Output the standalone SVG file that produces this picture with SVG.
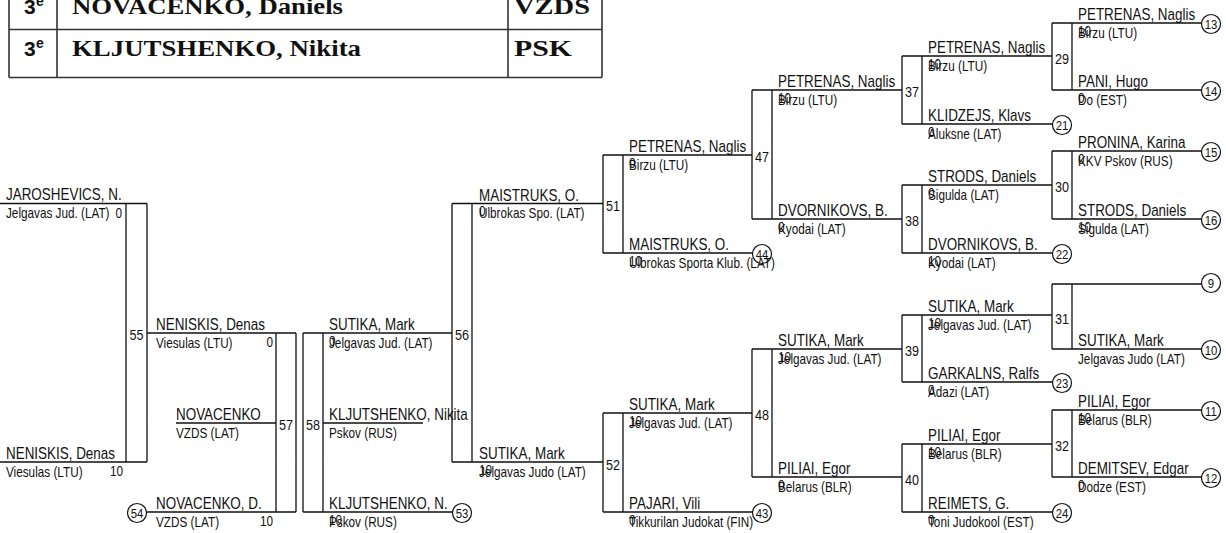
<svg xmlns="http://www.w3.org/2000/svg" width="1226" height="533" viewBox="0 0 1226 533">
<style>
text{font-family:"Liberation Sans",Arial,sans-serif;fill:#111}
#matches text,#pools text,#players text{transform-box:fill-box;transform:scaleX(.84);transform-origin:0 0}
.nm{font-size:16px}
.cl{font-size:14px}
.sc{font-size:14px}
#players .se{font-size:14px;text-anchor:end;transform-origin:100% 0}
#matches .bn{font-size:15px;text-anchor:middle;transform-origin:50% 0}
#pools .cn{font-size:13.5px;text-anchor:middle;transform-origin:50% 0}
.ln{stroke:#111;stroke-width:1.3;fill:none}
.tb{stroke:#333;stroke-width:1.6;fill:none}
.cc{fill:#fff;stroke:#111;stroke-width:1.2}
.tt{font-family:"Liberation Serif","Times New Roman",serif;font-weight:bold;font-size:23px}
.pl{font-family:"Liberation Sans",Arial,sans-serif;font-weight:bold;font-size:21px}
.ps{font-family:"Liberation Sans",Arial,sans-serif;font-weight:bold;font-size:14px}
</style>
<rect width="1226" height="533" fill="#fff"/>
<g id="table">
<path class="tb" d="M9 -2V77.5M57 -2V77.5M508 -2V77.5M602 -2V77.5M9 29.5H602M9 77.5H602"/>
<text class="pl" x="24" y="13.5">3</text><text class="ps" x="36" y="6">e</text>
<text class="tt" x="72" y="13.5" textLength="271" lengthAdjust="spacingAndGlyphs">NOVACENKO, Daniels</text>
<text class="tt" x="514" y="13.5" textLength="76" lengthAdjust="spacingAndGlyphs">VZDS</text>
<text class="pl" x="24" y="56">3</text><text class="ps" x="36" y="48">e</text>
<text class="tt" x="72" y="56" textLength="289" lengthAdjust="spacingAndGlyphs">KLJUTSHENKO, Nikita</text>
<text class="tt" x="514" y="56" textLength="58" lengthAdjust="spacingAndGlyphs">PSK</text>
</g>
<g id="connectors">
<path class="ln" d="M0 203.5H147M0 462H147M126 203.5V462M147 203.5V462
M147 333H296M176 423H276M147 512H296M276 333V512M296 333V512
M303 333H452M303 512H453M303 333V512M323 333V512M323 423H423
M452 203.5H603M452 462H603M452 203.5V462M472 203.5V462
M603 155H752M603 253H753M603 155V253M623 155V253
M752 90H902M752 219H902M752 90V219M772 90V219
M902 56H1052M902 124H1053M902 56V124M922 56V124
M1052 23H1202M1052 90H1202M1052 23V90M1072 23V90
M902 185H1052M902 253H1053M902 185V253M922 185V253
M1052 151H1202M1052 219H1202M1052 151V219M1072 151V219
M603 413H752M603 512H753M603 413V512M623 413V512
M752 349H902M752 477H902M752 349V477M772 349V477
M902 315H1052M902 382H1053M902 315V382M922 315V382
M1052 284H1202M1052 349H1202M1052 284V349M1072 284V349
M902 444H1052M902 512H1053M902 444V512M922 444V512
M1052 410H1202M1052 477H1202M1052 410V477M1072 410V477"/>
</g>
<g id="matches">
<g id="m55"><text class="bn" x="136.5" y="340">55</text></g>
<g id="m57"><text class="bn" x="286" y="430">57</text></g>
<g id="m58"><text class="bn" x="313" y="430">58</text></g>
<g id="m56"><text class="bn" x="462" y="340">56</text></g>
<g id="m51"><text class="bn" x="613" y="211">51</text></g>
<g id="m52"><text class="bn" x="613" y="470">52</text></g>
<g id="m47"><text class="bn" x="762" y="162">47</text></g>
<g id="m48"><text class="bn" x="762" y="420">48</text></g>
<g id="m37"><text class="bn" x="912" y="97">37</text></g>
<g id="m38"><text class="bn" x="912" y="226">38</text></g>
<g id="m39"><text class="bn" x="912" y="356">39</text></g>
<g id="m40"><text class="bn" x="912" y="485">40</text></g>
<g id="m29"><text class="bn" x="1062" y="64">29</text></g>
<g id="m30"><text class="bn" x="1062" y="192">30</text></g>
<g id="m31"><text class="bn" x="1062" y="324">31</text></g>
<g id="m32"><text class="bn" x="1062" y="451">32</text></g>
</g>
<g id="pools">
<g id="c54"><circle class="cc" cx="137" cy="513" r="9.5"/><text class="cn" x="137" y="518">54</text></g>
<g id="c53"><circle class="cc" cx="462" cy="513" r="9.5"/><text class="cn" x="462" y="518">53</text></g>
<g id="c44"><circle class="cc" cx="762" cy="254" r="9.5"/><text class="cn" x="762" y="259">44</text></g>
<g id="c43"><circle class="cc" cx="762" cy="513" r="9.5"/><text class="cn" x="762" y="518">43</text></g>
<g id="c13"><circle class="cc" cx="1211" cy="24" r="9.5"/><text class="cn" x="1211" y="29">13</text></g>
<g id="c14"><circle class="cc" cx="1211" cy="91" r="9.5"/><text class="cn" x="1211" y="96">14</text></g>
<g id="c21"><circle class="cc" cx="1062" cy="125" r="9.5"/><text class="cn" x="1062" y="130">21</text></g>
<g id="c15"><circle class="cc" cx="1211" cy="152" r="9.5"/><text class="cn" x="1211" y="157">15</text></g>
<g id="c16"><circle class="cc" cx="1211" cy="220" r="9.5"/><text class="cn" x="1211" y="225">16</text></g>
<g id="c22"><circle class="cc" cx="1062" cy="254" r="9.5"/><text class="cn" x="1062" y="259">22</text></g>
<g id="c9"><circle class="cc" cx="1211" cy="283" r="9.5"/><text class="cn" x="1211" y="288">9</text></g>
<g id="c10"><circle class="cc" cx="1211" cy="350" r="9.5"/><text class="cn" x="1211" y="355">10</text></g>
<g id="c23"><circle class="cc" cx="1062" cy="383" r="9.5"/><text class="cn" x="1062" y="388">23</text></g>
<g id="c11"><circle class="cc" cx="1211" cy="411" r="9.5"/><text class="cn" x="1211" y="416">11</text></g>
<g id="c12"><circle class="cc" cx="1211" cy="478" r="9.5"/><text class="cn" x="1211" y="483">12</text></g>
<g id="c24"><circle class="cc" cx="1062" cy="513" r="9.5"/><text class="cn" x="1062" y="518">24</text></g>
</g>
<g id="players">
<g id="p1"><text class="nm" x="6" y="200.5">JAROSHEVICS, N.</text><text class="cl" x="6" y="218.5">Jelgavas Jud. (LAT)</text><text class="se" x="122" y="218.5">0</text></g>
<g id="p2"><text class="nm" x="6" y="459.5">NENISKIS, Denas</text><text class="cl" x="6" y="477">Viesulas (LTU)</text><text class="se" x="123" y="476">10</text></g>
<g id="p3"><text class="nm" x="156" y="330.5">NENISKIS, Denas</text><text class="cl" x="156" y="348">Viesulas (LTU)</text><text class="se" x="273" y="347">0</text></g>
<g id="p4"><text class="nm" x="176" y="420.5">NOVACENKO</text><text class="cl" x="176" y="438">VZDS (LAT)</text></g>
<g id="p5"><text class="nm" x="156" y="509.5">NOVACENKO, D.</text><text class="cl" x="156" y="527">VZDS (LAT)</text><text class="se" x="273" y="526">10</text></g>
<g id="p6"><text class="nm" x="329" y="330.5">SUTIKA, Mark</text><text class="cl" x="329" y="348">Jelgavas Jud. (LAT)</text><text class="sc" x="329" y="346">0</text></g>
<g id="p7"><text class="nm" x="329" y="420.5">KLJUTSHENKO, Nikita</text><text class="cl" x="329" y="438">Pskov (RUS)</text></g>
<g id="p8"><text class="nm" x="329" y="509.5">KLJUTSHENKO, N.</text><text class="cl" x="329" y="527">Pskov (RUS)</text><text class="sc" x="329" y="525">10</text></g>
<g id="p9"><text class="nm" x="479" y="201">MAISTRUKS, O.</text><text class="cl" x="479" y="218.5">Ulbrokas Spo. (LAT)</text><text class="sc" x="479" y="216.5">0</text></g>
<g id="p10"><text class="nm" x="479" y="459.5">SUTIKA, Mark</text><text class="cl" x="479" y="477">Jelgavas Judo (LAT)</text><text class="sc" x="479" y="475">10</text></g>
<g id="p11"><text class="nm" x="629" y="152.5">PETRENAS, Naglis</text><text class="cl" x="629" y="170">Birzu (LTU)</text><text class="sc" x="629" y="168">0</text></g>
<g id="p12"><text class="nm" x="629" y="250.5">MAISTRUKS, O.</text><text class="cl" x="629" y="268">Ulbrokas Sporta Klub. (LAT)</text><text class="sc" x="629" y="266">10</text></g>
<g id="p13"><text class="nm" x="629" y="410.5">SUTIKA, Mark</text><text class="cl" x="629" y="428">Jelgavas Jud. (LAT)</text><text class="sc" x="629" y="426">10</text></g>
<g id="p14"><text class="nm" x="629" y="509.5">PAJARI, Vili</text><text class="cl" x="629" y="527">Tikkurilan Judokat (FIN)</text><text class="sc" x="629" y="525">0</text></g>
<g id="p15"><text class="nm" x="778" y="87.5">PETRENAS, Naglis</text><text class="cl" x="778" y="105">Birzu (LTU)</text><text class="sc" x="778" y="103">10</text></g>
<g id="p16"><text class="nm" x="778" y="216.5">DVORNIKOVS, B.</text><text class="cl" x="778" y="234">Kyodai (LAT)</text><text class="sc" x="778" y="232">0</text></g>
<g id="p17"><text class="nm" x="778" y="346.5">SUTIKA, Mark</text><text class="cl" x="778" y="364">Jelgavas Jud. (LAT)</text><text class="sc" x="778" y="362">10</text></g>
<g id="p18"><text class="nm" x="778" y="474.5">PILIAI, Egor</text><text class="cl" x="778" y="492">Belarus (BLR)</text><text class="sc" x="778" y="490">0</text></g>
<g id="p19"><text class="nm" x="928" y="53.5">PETRENAS, Naglis</text><text class="cl" x="928" y="71">Birzu (LTU)</text><text class="sc" x="928" y="69">10</text></g>
<g id="p20"><text class="nm" x="928" y="121.5">KLIDZEJS, Klavs</text><text class="cl" x="928" y="139">Aluksne (LAT)</text><text class="sc" x="928" y="137">0</text></g>
<g id="p21"><text class="nm" x="928" y="182.5">STRODS, Daniels</text><text class="cl" x="928" y="200">Sigulda (LAT)</text><text class="sc" x="928" y="198">0</text></g>
<g id="p22"><text class="nm" x="928" y="250.5">DVORNIKOVS, B.</text><text class="cl" x="928" y="268">Kyodai (LAT)</text><text class="sc" x="928" y="266">10</text></g>
<g id="p23"><text class="nm" x="928" y="312.5">SUTIKA, Mark</text><text class="cl" x="928" y="330">Jelgavas Jud. (LAT)</text><text class="sc" x="928" y="328">10</text></g>
<g id="p24"><text class="nm" x="928" y="379.5">GARKALNS, Ralfs</text><text class="cl" x="928" y="397">Adazi (LAT)</text><text class="sc" x="928" y="395">0</text></g>
<g id="p25"><text class="nm" x="928" y="441.5">PILIAI, Egor</text><text class="cl" x="928" y="459">Belarus (BLR)</text><text class="sc" x="928" y="457">10</text></g>
<g id="p26"><text class="nm" x="928" y="509.5">REIMETS, G.</text><text class="cl" x="928" y="527">Toni Judokool (EST)</text><text class="sc" x="928" y="525">0</text></g>
<g id="p27"><text class="nm" x="1078" y="20.5">PETRENAS, Naglis</text><text class="cl" x="1078" y="38">Birzu (LTU)</text><text class="sc" x="1078" y="36">10</text></g>
<g id="p28"><text class="nm" x="1078" y="87.5">PANI, Hugo</text><text class="cl" x="1078" y="105">Do (EST)</text><text class="sc" x="1078" y="103">0</text></g>
<g id="p29"><text class="nm" x="1078" y="148.5">PRONINA, Karina</text><text class="cl" x="1078" y="166">KKV Pskov (RUS)</text><text class="sc" x="1078" y="164">0</text></g>
<g id="p30"><text class="nm" x="1078" y="216.5">STRODS, Daniels</text><text class="cl" x="1078" y="234">Sigulda (LAT)</text><text class="sc" x="1078" y="232">10</text></g>
<g id="p31"><text class="nm" x="1078" y="346.5">SUTIKA, Mark</text><text class="cl" x="1078" y="364">Jelgavas Judo (LAT)</text></g>
<g id="p32"><text class="nm" x="1078" y="407.5">PILIAI, Egor</text><text class="cl" x="1078" y="425">Belarus (BLR)</text><text class="sc" x="1078" y="423">10</text></g>
<g id="p33"><text class="nm" x="1078" y="474.5">DEMITSEV, Edgar</text><text class="cl" x="1078" y="492">Dodze (EST)</text><text class="sc" x="1078" y="490">0</text></g>
</g>
</svg>
